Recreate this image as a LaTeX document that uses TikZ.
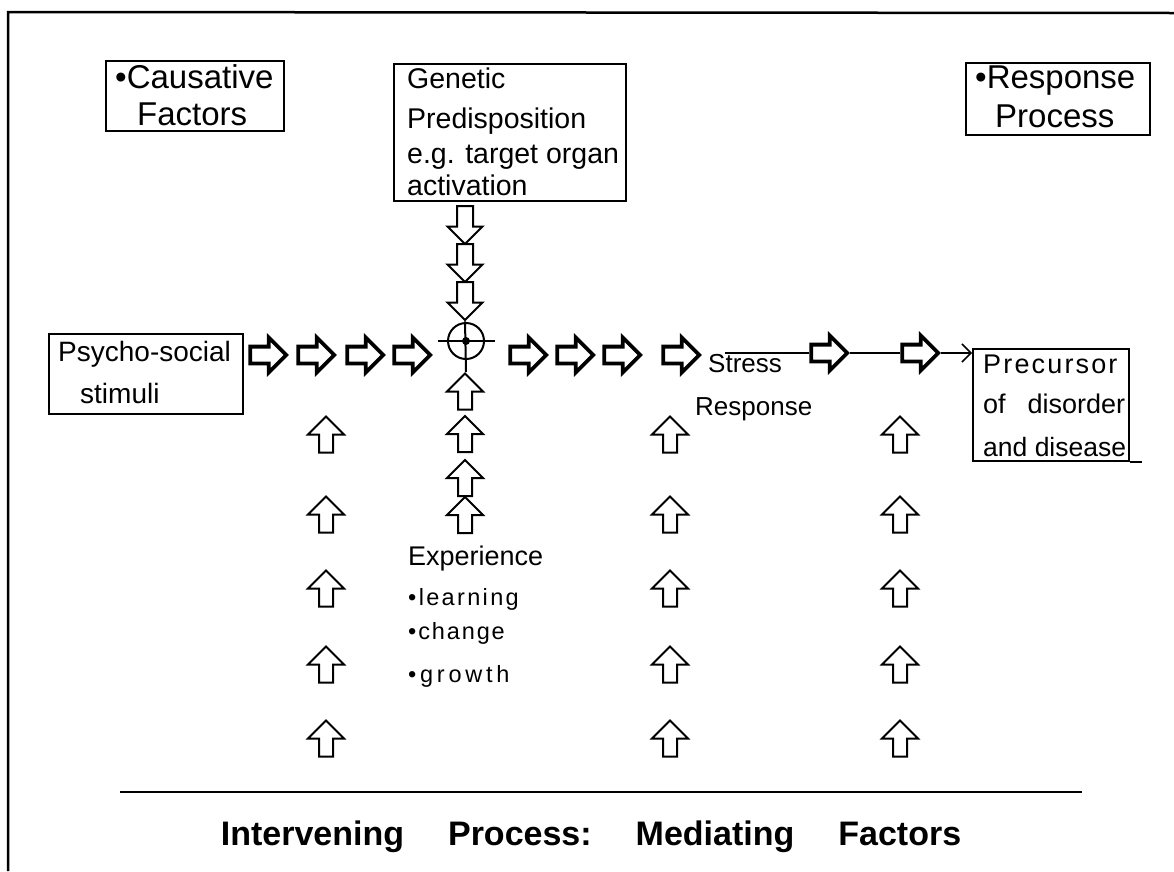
\documentclass[tikz,border=0pt]{standalone}
\usepackage{fontspec}
\setmainfont{Liberation Sans}
\usetikzlibrary{shapes.arrows,arrows.meta}
\newcommand\setfs[2]{\fontsize{#1}{#2}\selectfont}

\begin{document}
\begin{tikzpicture}[x=1pt,y=-1pt,
  box/.style={draw, line width=1.8pt, inner sep=0pt, anchor=north west},
  lab/.style={inner sep=0pt, anchor=base west},
  rarr/.style={single arrow, draw, line width=3.8pt, fill=white,
    minimum height=36pt, inner xsep=0pt, inner ysep=6.5pt,
    single arrow head extend=9pt},
  uarr/.style={single arrow, draw, line width=2pt, fill=white,
    minimum height=36pt, inner xsep=0pt, inner ysep=6pt,
    single arrow head extend=11pt, rotate=90},
  darr/.style={single arrow, draw, line width=2pt, fill=white,
    minimum height=38pt, inner xsep=0pt, inner ysep=7pt,
    single arrow head extend=9.5pt, rotate=-90},
  thin/.style={line width=1.5pt},
]
\useasboundingbox (0,0) rectangle (1174,871);

% outer frame (left and top edges)
\draw[line width=2.5pt] (8,871) -- (8,12) -- (1174,13);

% --- boxes ---
\node[box, minimum width=178, minimum height=70] (cause) at (105,60) {};
\node[box, minimum width=184, minimum height=72] (resp) at (965,62) {};
\node[box, minimum width=232, minimum height=137] (gene) at (393,63) {};
\node[box, minimum width=194, minimum height=80] (psy) at (48,333) {};
\node[box, minimum width=156, minimum height=112] (prec) at (972,348) {};
\draw[line width=1.8pt] (prec.south east) -- ++(12,0);

% --- box texts ---
\node[lab, font=\setfs{33}{38}] (cause1) at (115,88) {•Causative};
\node[lab, font=\setfs{33}{38}] (cause2) at (137,125) {Factors};
\node[lab, font=\setfs{33}{38}] (resp1) at (975,88) {•Response};
\node[lab, font=\setfs{33}{38}] (resp2) at (995,127) {Process};
\node[lab, font=\setfs{28.5}{34}] (gene1) at (407,88) {Genetic};
\node[lab, font=\setfs{28.5}{34}] (gene2) at (407,128) {Predisposition};
\node[lab, font=\setfs{28.5}{34}] (gene3) at (407,163) {e.g. target organ};
\node[lab, font=\setfs{28.5}{34}] (gene4) at (407,195) {activation};
\node[lab, font=\setfs{28}{34}] (psy1) at (58,361) {Psycho-social};
\node[lab, font=\setfs{28}{34}] (psy2) at (80,403) {stimuli};
\node[lab, font=\setfs{27}{34}\addfontfeature{LetterSpace=8}] (prec1) at (983,373) {Precursor};
\node[lab, font=\setfs{27}{34}] (prec2) at (983,413) {\makebox[142pt][s]{of disorder}};
\node[lab, font=\setfs{26.5}{34}] (prec3) at (983,456) {and disease};

% --- free texts ---
\node[lab, font=\setfs{26}{32}] (str1) at (708,372) {Stress};
\node[lab, font=\setfs{26}{32}] (str2) at (695,415) {Response};
\node[lab, font=\setfs{27}{32}] (exp0) at (408,565) {Experience};
\node[lab, font=\setfs{23.5}{28}\addfontfeature{LetterSpace=10}] (exp1) at (408,605) {•learning};
\node[lab, font=\setfs{23.5}{28}\addfontfeature{LetterSpace=8}] (exp2) at (408,639) {•change};
\node[lab, font=\setfs{23.5}{28}\addfontfeature{LetterSpace=16}] (exp3) at (408,682) {•growth};

% --- main horizontal chain ---
\foreach \i/\x in {1/264,2/312,3/361,4/408,5/524,6/571,7/618,8/677}
  \node[rarr] (r\i) at (\x,355) {};
\node[rarr] (r9) at (825,353) {};
\node[rarr] (r10) at (916,353) {};
\coordinate (sline) at (725,353);
\draw[thin] (sline) -- (r9.west);
\draw[thin] (r9.east) -- (r10.west);
\draw[thin, -{Straight Barb[length=9pt,width=18pt,line width=1.5pt]}]
  (r10.east) -- (r10.east -| prec.west);

% --- crosshair where the influences meet ---
\node[draw, circle, line width=2pt, minimum size=36pt, inner sep=0pt] (target) at (466,341) {};
\node[circle, fill, minimum size=8pt, inner sep=0pt] (dot) at (target.center) {};
\draw[line width=2pt] ([xshift=-28pt]target.center) -- ([xshift=29pt]target.center);

% --- genetic influence from above ---
\node[darr] (d1) at (465,221) {};
\node[darr] (d2) at (465,259) {};
\node[darr] (d3) at (465,297) {};
\draw[line width=2pt] (d3.east) -- ([yshift=-31pt]target.center);

% --- experience influence from below ---
\foreach \i/\y in {1/395,2/437.5,3/481.5,4/518.5}
  \node[uarr] (e\i) at (465,\y) {};

% --- columns of mediating factors ---
\foreach \c/\x in {a/326,b/670,c/900}
  \foreach \i/\y in {1/438,2/518,3/592,4/668,5/742}
    \node[uarr] (m\c\i) at (\x,\y) {};

% --- mediating factors baseline and caption ---
\coordinate (bl) at (120,792);
\coordinate (br) at (1082,792);
\draw[line width=2pt] (bl) -- (br);
\node[inner sep=0pt, anchor=base, font=\setfs{34}{40}\bfseries] (title) at (591,845)
  {Intervening\hspace{44pt}Process:\hspace{44pt}Mediating\hspace{44pt}Factors};
\end{tikzpicture}
\end{document}
